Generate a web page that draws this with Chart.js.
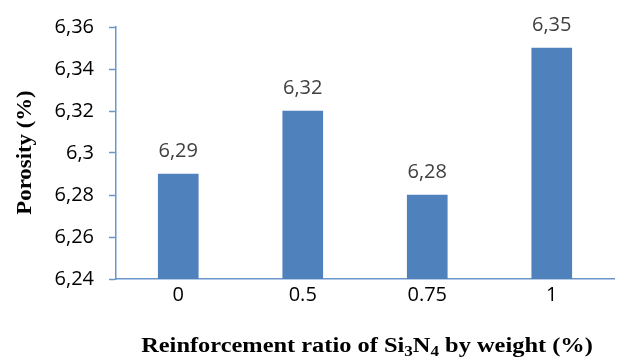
<!DOCTYPE html>
<html>
<head>
<meta charset="utf-8">
<script src="https://cdn.jsdelivr.net/npm/chart.js@4"></script>
<style>
html,body{margin:0;padding:0;background:#fff;}
canvas{display:block;}
</style>
</head>
<body>
<canvas id="c" width="622" height="358"></canvas>
<script>
const categories = ['0', '0.5', '0.75', '1'];
const porosity = [6.29, 6.32, 6.28, 6.35];
const yMin = 6.24, yMax = 6.36, yStep = 0.02;
const yTitle = 'Porosity (%)';
const xTitleParts = [
  {t: 'Reinforcement ratio of Si', sub: false},
  {t: '3', sub: true},
  {t: 'N', sub: false},
  {t: '4', sub: true},
  {t: ' by weight (%)', sub: false}
];

const AXIS = '#6b96cc';
const BAR = '#4f81bd';
const fmt = v => (Math.round(v * 100) / 100).toString().replace('.', ',');

const labelsPlugin = {
  id: 'extras',
  afterDatasetsDraw(chart) {
    const ctx = chart.ctx;
    const meta = chart.getDatasetMeta(0);
    ctx.save();
    ctx.font = '20px "Open Sans"';
    ctx.fillStyle = '#404040';
    ctx.textAlign = 'center';
    ctx.textBaseline = 'alphabetic';
    meta.data.forEach((bar, i) => {
      ctx.fillText(fmt(chart.data.datasets[0].data[i]), bar.x, bar.y - 17);
    });
    ctx.restore();
  },
  afterDraw(chart) {
    const ctx = chart.ctx;
    const area = chart.chartArea;
    ctx.save();
    ctx.fillStyle = '#000';
    // y title
    ctx.font = 'bold 20px "Liberation Serif"';
    ctx.translate(26, 152.5);
    ctx.rotate(-Math.PI / 2);
    ctx.scale(1.14, 1);
    ctx.textAlign = 'center';
    ctx.textBaseline = 'middle';
    ctx.fillText(yTitle, 0, 0);
    ctx.restore();
    // x title with subscripts
    ctx.save();
    ctx.fillStyle = '#000';
    ctx.textBaseline = 'alphabetic';
    ctx.textAlign = 'left';
    const big = 'bold 20px "Liberation Serif"', small = 'bold 14px "Liberation Serif"';
    let total = 0;
    xTitleParts.forEach(p => { ctx.font = p.sub ? small : big; total += ctx.measureText(p.t).width; });
    const sx = 1.22;
    ctx.translate(367 - total * sx / 2, 352);
    ctx.scale(sx, 1);
    let x = 0;
    xTitleParts.forEach(p => {
      ctx.font = p.sub ? small : big;
      ctx.fillText(p.t, x, p.sub ? 4 : 0);
      x += ctx.measureText(p.t).width;
    });
    ctx.restore();
  }
};

new Chart(document.getElementById('c'), {
  type: 'bar',
  data: {
    labels: categories,
    datasets: [{
      data: porosity,
      backgroundColor: BAR,
      borderWidth: 0,
      barThickness: 40
    }]
  },
  options: {
    responsive: false,
    animation: false,
    devicePixelRatio: 1,
    layout: {padding: {left: 0, right: 8, top: 25, bottom: 0}},
    plugins: {legend: {display: false}, tooltip: {enabled: false}},
    scales: {
      x: {
        grid: {display: true, drawOnChartArea: false, drawTicks: false},
        border: {display: true, color: AXIS, width: 1.5},
        ticks: {color: '#000', font: {family: 'Open Sans', size: 20}, padding: 4},
        afterFit(s) { s.height = 79; }
      },
      y: {
        min: yMin, max: yMax,
        grid: {display: true, drawOnChartArea: false, drawTicks: true, tickLength: 7, color: AXIS, tickWidth: 1.5},
        border: {display: true, color: AXIS, width: 1.5},
        ticks: {stepSize: yStep, color: '#000', font: {family: 'Open Sans', size: 20}, padding: 15,
          callback: v => fmt(v)},
        afterFit(s) { s.width = 116; }
      }
    }
  },
  plugins: [labelsPlugin]
});
</script>
</body>
</html>
